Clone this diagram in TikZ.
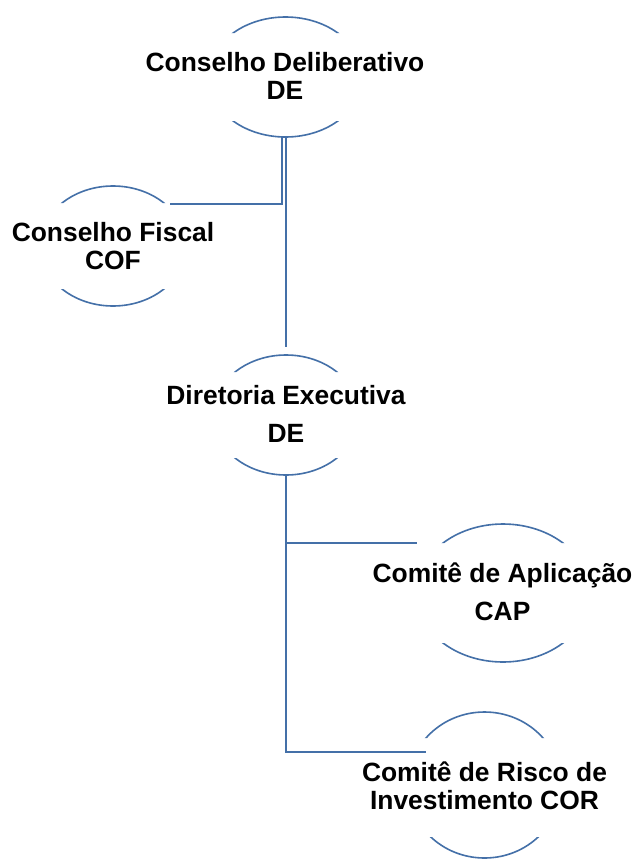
\documentclass[tikz,border=0pt]{standalone}
\usepackage{fontspec}
\setmainfont{Liberation Sans}
\usetikzlibrary{shapes.geometric}
\definecolor{lineblue}{RGB}{68,112,168}
\begin{document}
\begin{tikzpicture}[x=0.75pt,y=-0.75pt,
  conn/.style={draw=lineblue,line width=1.2pt},
  ell/.style={ellipse,draw=lineblue,line width=1.2pt,inner sep=0pt,outer sep=0pt},
  lbl/.style={font=\bfseries\fontsize{19.8}{21}\selectfont,align=center,inner sep=0pt}]
\useasboundingbox[fill=white] (0,0) rectangle (635,860);
% ellipses, hidden behind the text band
\begin{scope}
  \clip (0,0) rectangle (635,33) (0,121) rectangle (635,860);
  \node[ell,minimum width=115.5pt,minimum height=90pt] (cd) at (285.5,77) {};
\end{scope}
\begin{scope}
  \clip (0,0) rectangle (635,203) (0,289) rectangle (635,860);
  \node[ell,minimum width=109.5pt,minimum height=90pt] (cof) at (113,246) {};
\end{scope}
\begin{scope}
  \clip (0,0) rectangle (635,372) (0,458) rectangle (635,860);
  \node[ell,minimum width=109.5pt,minimum height=90pt] (de) at (286,415) {};
\end{scope}
\begin{scope}
  \clip (0,0) rectangle (635,543) (0,643) rectangle (635,860);
  \node[ell,minimum width=130.5pt,minimum height=103.5pt] (cap) at (503,593) {};
\end{scope}
\begin{scope}
  \clip (0,0) rectangle (635,738) (0,837) rectangle (635,860);
  \node[ell,minimum width=114.75pt,minimum height=109.5pt] (cor) at (484.5,785) {};
\end{scope}
% labels
\node[lbl] (cdlbl) at (285,76) {Conselho Deliberativo\\DE};
\node[lbl] (coflbl) at (113,246) {Conselho Fiscal\\COF};
\node[lbl] (delbl) at (286,414) {Diretoria Executiva\\[7.5pt]DE};
\node[lbl] (caplbl) at (502.5,592) {Comitê de Aplicação\\[7.5pt]CAP};
\node[lbl] (corlbl) at (484.5,786) {Comitê de Risco de\\Investimento COR};
% connector end points
\coordinate (cofend) at (170,204);
\coordinate (detop) at (286,347);
\coordinate (capend) at (417,543);
\coordinate (corend) at (426,752);
% connectors
\draw[conn] ([xshift=-2.6pt]cd.south) |- (cofend);
\draw[conn] (cd.south -| detop) -- (detop);
\draw[conn] (de.south) -- (de.south |- corend) -- (corend);
\draw[conn] (de.south |- capend) -- (capend);
\end{tikzpicture}
\end{document}
